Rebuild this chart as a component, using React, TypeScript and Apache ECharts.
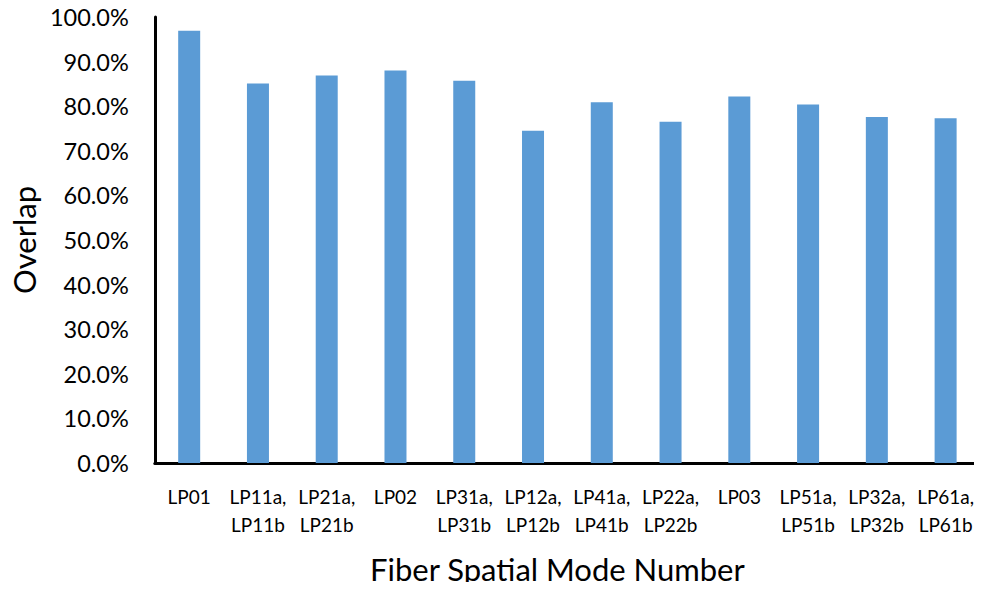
import React, { useEffect, useRef } from "react";
import * as echarts from "echarts";

const categories = [
  "LP01",
  "LP11a,\nLP11b",
  "LP21a,\nLP21b",
  "LP02",
  "LP31a,\nLP31b",
  "LP12a,\nLP12b",
  "LP41a,\nLP41b",
  "LP22a,\nLP22b",
  "LP03",
  "LP51a,\nLP51b",
  "LP32a,\nLP32b",
  "LP61a,\nLP61b",
];
const overlapValues = [96.9, 85.1, 86.9, 88.0, 85.7, 74.5, 80.9, 76.5, 82.2, 80.4, 77.6, 77.3];
const yAxisTitle = "Overlap";
const xAxisTitle = "Fiber Spatial Mode Number";

const FONT = "Lato";

export default function App() {
  const ref = useRef<HTMLDivElement>(null);
  useEffect(() => {
    if (!ref.current) return;
    const chart = echarts.init(ref.current, null, { renderer: "svg" });
    chart.setOption({
      animation: false,
      backgroundColor: "#ffffff",
      grid: { left: 154, right: 2, top: 17, bottom: 127, containLabel: false },
      xAxis: {
        type: "category",
        data: categories,
        name: xAxisTitle,
        nameLocation: "middle",
        nameGap: 90,
        nameTextStyle: { fontFamily: FONT, fontSize: 31, color: "#000", padding: [0, 20, 0, 0] },
        axisLine: { lineStyle: { color: "#000", width: 3 } },
        axisTick: { show: false },
        axisLabel: {
          interval: 0,
          fontFamily: FONT,
          fontSize: 19,
          color: "#000",
          lineHeight: 28,
          margin: 19,
        },
      },
      yAxis: {
        type: "value",
        min: 0,
        max: 100,
        interval: 10,
        name: yAxisTitle,
        nameLocation: "middle",
        nameGap: 113,
        nameTextStyle: { fontFamily: FONT, fontSize: 31, color: "#000" },
        axisLine: { show: true, lineStyle: { color: "#000", width: 3 } },
        axisTick: { show: false },
        splitLine: { show: false },
        axisLabel: {
          fontFamily: FONT,
          fontSize: 23.5,
          color: "#000",
          margin: 26,
          formatter: (v: number) => v.toFixed(1) + "%",
        },
      },
      series: [
        {
          type: "bar",
          data: overlapValues,
          barWidth: "32%",
          itemStyle: { color: "#5B9BD5" },
        },
      ],
    });
    return () => chart.dispose();
  }, []);
  return <div ref={ref} style={{ width: 982, height: 590, margin: -8 }} />;
}
